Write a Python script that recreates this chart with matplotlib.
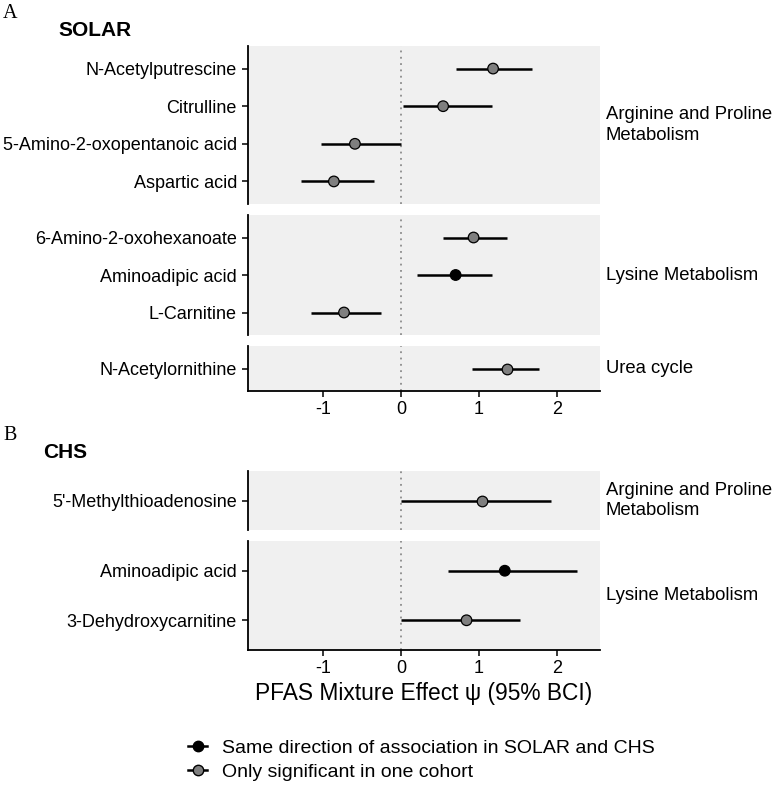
import numpy as np
import matplotlib.pyplot as plt
from matplotlib.lines import Line2D

plt.rcParams['font.family'] = ['Liberation Sans', 'DejaVu Sans']
plt.rcParams['axes.unicode_minus'] = False

# SOLAR (panel A)
solar_groups = ['Arginine and Proline\nMetabolism', 'Lysine Metabolism', 'Urea cycle']
solar_names = [
    ['N-Acetylputrescine', 'Citrulline', '5-Amino-2-oxopentanoic acid', 'Aspartic acid'],
    ['6-Amino-2-oxohexanoate', 'Aminoadipic acid', 'L-Carnitine'],
    ['N-Acetylornithine'],
]
solar_est = [[1.18, 0.54, -0.59, -0.86], [0.93, 0.70, -0.73], [1.36]]
solar_lo = [[0.70, 0.02, -1.02, -1.28], [0.54, 0.20, -1.15], [0.91]]
solar_hi = [[1.68, 1.16, 0.00, -0.35], [1.36, 1.17, -0.25], [1.77]]
solar_same = [[False, False, False, False], [False, True, False], [False]]

# CHS (panel B)
chs_groups = ['Arginine and Proline\nMetabolism', 'Lysine Metabolism']
chs_names = [
    ["5'-Methylthioadenosine"],
    ['Aminoadipic acid', '3-Dehydroxycarnitine'],
]
chs_est = [[1.04], [1.33, 0.84]]
chs_lo = [[0.00], [0.60, 0.00]]
chs_hi = [[1.92], [2.25, 1.53]]
chs_same = [[False], [True, False]]

xticks = [-1, 0, 1, 2]
xlim = (-1.96, 2.55)

W, H = 782, 785
fig = plt.figure(figsize=(W / 100, H / 100), dpi=100)

ax_left, ax_right = 248, 600


def facet_axes(top, bottom):
    return fig.add_axes([ax_left / W, 1 - bottom / H, (ax_right - ax_left) / W, (bottom - top) / H])


def draw_panel(spans, groups, names, est, lo, hi, same):
    axes = []
    for i, (top, bottom) in enumerate(spans):
        ax = facet_axes(top, bottom)
        n = len(names[i])
        y = np.arange(n)
        ax.set_facecolor('#f0f0f0')
        ax.axvline(0, color='#8c8c8c', linestyle=(0, (1, 2.5)), lw=1.3, zorder=1)
        ax.hlines(y, lo[i], hi[i], color='black', lw=1.8, zorder=2)
        cols = ['black' if s else '#7f7f7f' for s in same[i]]
        ax.scatter(est[i], y, s=58, c=cols, edgecolors='black', linewidths=0.9, zorder=3)
        ax.set_ylim(n - 1 + 0.6, -0.6)
        ax.set_xlim(*xlim)
        ax.set_yticks(y)
        ax.set_yticklabels(names[i], fontsize=13)
        for s in ['top', 'right', 'bottom']:
            ax.spines[s].set_visible(False)
        ax.spines['left'].set_linewidth(1.3)
        ax.tick_params(axis='y', length=4, width=1.1, pad=4)
        ax.set_xticks(xticks)
        ax.tick_params(axis='x', bottom=False, labelbottom=False)
        ax.text(1.017, 0.5, groups[i], transform=ax.transAxes, ha='left', va='center',
                fontsize=13.3, linespacing=1.25)
        axes.append(ax)
    last = axes[-1]
    last.spines['bottom'].set_visible(True)
    last.spines['bottom'].set_linewidth(1.3)
    last.tick_params(axis='x', bottom=True, labelbottom=True, length=4, width=1.1,
                     labelsize=13, pad=3)
    return axes


draw_panel([(46, 204), (215, 335), (346, 391)], solar_groups, solar_names,
           solar_est, solar_lo, solar_hi, solar_same)
axes_b = draw_panel([(471, 530), (541, 650)], chs_groups, chs_names,
                    chs_est, chs_lo, chs_hi, chs_same)

axes_b[-1].set_xlabel('PFAS Mixture Effect ψ (95% BCI)', fontsize=16.4, labelpad=4)

fig.text(3 / W, 1 - 13 / H, 'A', fontsize=14.5, family='Liberation Serif', va='center')
fig.text(58 / W, 1 - 30 / H, 'SOLAR', fontsize=15, fontweight='bold', va='center')
fig.text(3 / W, 1 - 436 / H, 'B', fontsize=14.5, family='Liberation Serif', va='center')
fig.text(43 / W, 1 - 452 / H, 'CHS', fontsize=15, fontweight='bold', va='center')

handles = [
    Line2D([], [], color='black', lw=1.8, marker='o', markersize=7.5,
           markerfacecolor='black', markeredgecolor='black'),
    Line2D([], [], color='black', lw=1.8, marker='o', markersize=7.5,
           markerfacecolor='#7f7f7f', markeredgecolor='black'),
]
labels = ['Same direction of association in SOLAR and CHS', 'Only significant in one cohort']
fig.legend(handles, labels, loc='center left', bbox_to_anchor=(188 / W, 1 - 760 / H),
           frameon=False, fontsize=14, handlelength=1.0, handletextpad=0.75,
           labelspacing=0.3, borderaxespad=0, borderpad=0)

fig.savefig('out.png', dpi=100)
